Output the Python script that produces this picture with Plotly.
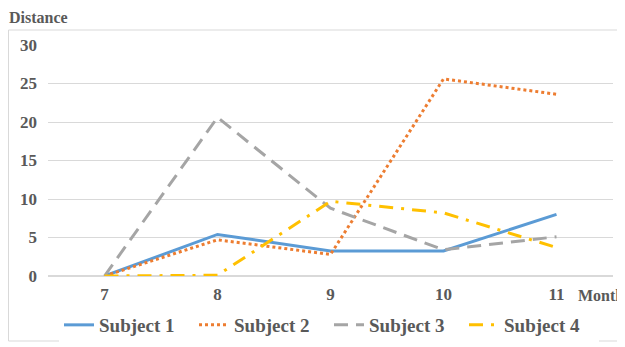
import plotly.graph_objects as go

months = ["7", "8", "9", "10", "11"]
subject1 = [0, 5.4, 3.25, 3.25, 8.0]
subject2 = [0, 4.7, 2.8, 25.6, 23.6]
subject3 = [0, 20.6, 8.8, 3.4, 5.1]
subject4 = [0, 0.1, 9.7, 8.2, 3.7]
y_ticks = [0, 5, 10, 15, 20, 25, 30]

FONT = "Liberation Serif"
TXT = "#595959"

# page body has an 8px default margin; lay out in reference pixels and offset
OFF = 8
W, H = 625 - OFF, 347 - OFF
L, R, T, B = 48 - OFF, 12, 45 - OFF, 71
pw, ph = W - L - R, H - T - B

def px(x):  # reference pixel x -> paper
    return (x - 48) / pw

def py(y):  # reference pixel y -> paper
    return (276 - y) / ph

fig = go.Figure()
series = [
    ("Subject 1", subject1, "#5B9BD5", "solid"),
    ("Subject 2", subject2, "#ED7D31", "dot"),
    ("Subject 3", subject3, "#A5A5A5", "14px,8px"),
    ("Subject 4", subject4, "#FFC000", "14px,8px,3px,8px"),
]
for name, vals, col, dash in series:
    fig.add_trace(go.Scatter(x=months, y=vals, name=name, mode="lines",
                             line=dict(color=col, width=3, dash=dash)))

fig.update_layout(
    width=W, height=H,
    margin=dict(l=L, r=R, t=T, b=B, autoexpand=False),
    paper_bgcolor="white", plot_bgcolor="white",
    font=dict(family=FONT, color=TXT, size=17),
    showlegend=True,
    legend=dict(orientation="h", x=px(59), xanchor="left",
                yref="container", y=1 - (325 - OFF) / H, yanchor="middle",
                font=dict(family=FONT, size=19, color=TXT, weight="bold"),
                entrywidth=90, entrywidthmode="pixels", tracegroupgap=0),
    xaxis=dict(type="category", range=[-0.5, 4.5], showgrid=False, zeroline=False,
               showline=False, ticks="", ticklabelstandoff=6, automargin=False,
               tickfont=dict(family=FONT, size=17, color=TXT, weight="bold")),
    yaxis=dict(range=[0, 30], tickvals=y_ticks, showgrid=True, gridcolor="#D9D9D9",
               gridwidth=1, zeroline=True, zerolinecolor="#D9D9D9", showline=False,
               ticks="", ticklabelstandoff=10, automargin=False,
               tickfont=dict(family=FONT, size=17, color=TXT, weight="bold")),
    annotations=[
        dict(text="Distance", xref="paper", yref="paper", x=px(7), y=py(17),
             xanchor="left", yanchor="middle", showarrow=False,
             font=dict(family=FONT, size=16, color=TXT, weight="bold")),
        dict(text="Month", xref="paper", yref="paper", x=px(576), y=py(295),
             xanchor="left", yanchor="middle", showarrow=False,
             font=dict(family=FONT, size=16, color=TXT, weight="bold")),
    ],
    shapes=[
        dict(type="rect", xref="paper", yref="paper", x0=px(8.5), x1=px(623),
             y0=py(341), y1=py(30), line=dict(color="#D9D9D9", width=1),
             fillcolor="rgba(0,0,0,0)", layer="below"),
    ],
)

fig.write_html("out.html")
